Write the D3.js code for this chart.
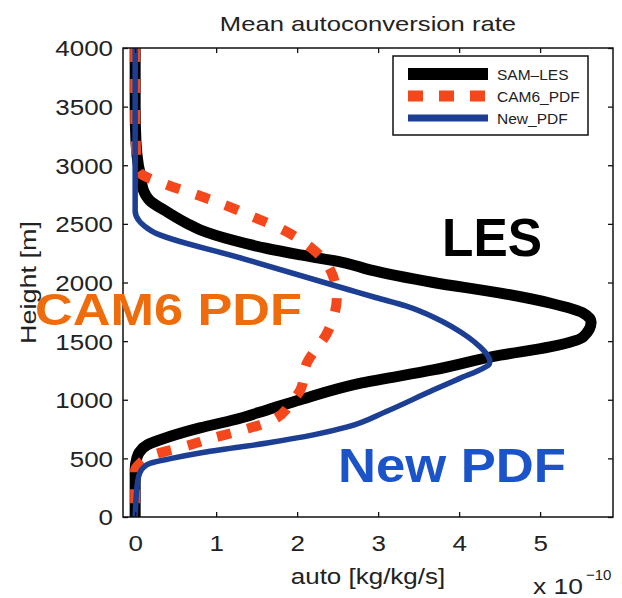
<!DOCTYPE html>
<html>
<head>
<meta charset="utf-8">
<script src="https://cdn.jsdelivr.net/npm/d3@7/dist/d3.min.js"></script>
<style>
  html, body { margin: 0; padding: 0; background: #fff; }
  svg { display: block; }
  text { font-family: "Liberation Sans", Arial, Helvetica, sans-serif; }
</style>
</head>
<body>
<svg id="chart" width="622" height="598"></svg>
<script>
// Mean autoconversion rate profiles (units of 1e-10 kg/kg/s) versus height (m)
const lesHeight = [4000, 3500, 3200, 3000, 2900, 2790, 2700, 2600, 2500, 2450, 2360, 2290, 2235, 2166, 2107, 2000, 1910, 1825, 1740, 1663, 1535, 1450, 1380, 1254, 1143, 1000, 913, 827, 760, 680, 615, 550, 500, 400, 0];
const lesRate   = [0.0, 0.0, 0.01, 0.04, 0.07, 0.1, 0.18, 0.4, 0.65, 0.8, 1.21, 1.63, 2.04, 2.6, 2.9, 3.68, 4.51, 5.12, 5.53, 5.63, 5.53, 5.12, 4.51, 3.68, 2.8, 2.04, 1.63, 1.21, 0.8, 0.4, 0.15, 0.05, 0.02, 0.0, 0.0];

const cam6Height = [4000, 3500, 3000, 2934, 2832, 2746, 2661, 2559, 2448, 2303, 2107, 1876, 1569, 1313, 1083, 1000, 827, 742, 674, 597, 529, 450, 400, 0];
const cam6Rate   = [0.0, 0.0, 0.02, 0.06, 0.4, 0.77, 1.11, 1.46, 1.83, 2.16, 2.41, 2.49, 2.37, 2.12, 2.04, 1.95, 1.70, 1.33, 0.96, 0.59, 0.22, 0.05, 0.0, 0.0];

const newHeight = [4000, 2610, 2440, 2200, 1936, 1870, 1800, 1700, 1620, 1530, 1450, 1380, 1330, 1300, 1270, 1180, 1083, 900, 768, 700, 631, 546, 500, 460, 420, 380, 300, 0];
const newRate   = [0.0, 0.0, 0.2, 1.35, 2.65, 2.98, 3.34, 3.7, 3.92, 4.12, 4.26, 4.35, 4.38, 4.37, 4.3, 4.0, 3.68, 3.1, 2.62, 2.2, 1.63, 0.8, 0.45, 0.19, 0.1, 0.06, 0.03, 0.0];

const xTicks = [0, 1, 2, 3, 4, 5];
const yTicks = [0, 500, 1000, 1500, 2000, 2500, 3000, 3500, 4000];

const seriesNames  = ["SAM\u2013LES", "CAM6_PDF", "New_PDF"];
const titleText    = "Mean autoconversion rate";
const xLabelText   = "auto [kg/kg/s]";
const yLabelText   = "Height [m]";
const noteLabels   = ["CAM6 PDF", "LES", "New PDF"];

// Plot frame
const frame = { left: 123, right: 613, top: 48, bottom: 517 };
const svg = d3.select("#chart");

const x = d3.scaleLinear().domain([-0.15, 5.9]).range([frame.left, frame.right]);
const y = d3.scaleLinear().domain([0, 4000]).range([frame.bottom, frame.top]);

const STRETCH = 1.18;
function widen(sel, factor) {
  sel.each(function () {
    const w = this.getComputedTextLength();
    d3.select(this).attr("textLength", w * factor).attr("lengthAdjust", "spacingAndGlyphs");
  });
}

// Series lines
const toPoints = (hs, vs) => hs.map((h, i) => [vs[i], h]);
const smoothLine = d3.line().x(d => x(d[0])).y(d => y(d[1])).curve(d3.curveMonotoneY);

svg.append("clipPath").attr("id", "plotclip")
  .append("rect").attr("x", frame.left).attr("y", frame.top)
  .attr("width", frame.right - frame.left).attr("height", frame.bottom - frame.top);
const plot = svg.append("g").attr("clip-path", "url(#plotclip)");

const colLES = "#000000", colCAM = "#f4481c", colNEW = "#1d3f93";

plot.append("path").datum(toPoints(lesHeight, lesRate))
  .attr("d", smoothLine).attr("fill", "none").attr("stroke", colLES)
  .attr("stroke-width", 11).attr("stroke-linejoin", "round");

plot.append("path").datum(toPoints(cam6Height, cam6Rate))
  .attr("d", smoothLine).attr("fill", "none").attr("stroke", colCAM)
  .attr("stroke-width", 10).attr("stroke-dasharray", "14,17");

plot.append("path").datum(toPoints(newHeight, newRate))
  .attr("d", smoothLine).attr("fill", "none").attr("stroke", colNEW)
  .attr("stroke-width", 5.5).attr("stroke-linejoin", "round");

// Axes with inward ticks on all four sides
const tickColor = "#222";
const fmt = d3.format("d");
const gL = svg.append("g").attr("transform", `translate(${frame.left},0)`)
  .call(d3.axisLeft(y).tickValues(yTicks).tickFormat(fmt).tickSizeInner(-5).tickSizeOuter(0).tickPadding(10));
const gB = svg.append("g").attr("transform", `translate(0,${frame.bottom})`)
  .call(d3.axisBottom(x).tickValues(xTicks).tickFormat(fmt).tickSizeInner(-5).tickSizeOuter(0).tickPadding(20));
const gT = svg.append("g").attr("transform", `translate(0,${frame.top})`)
  .call(d3.axisTop(x).tickValues(xTicks).tickSizeInner(-5).tickSizeOuter(0).tickFormat(""));
const gR = svg.append("g").attr("transform", `translate(${frame.right},0)`)
  .call(d3.axisRight(y).tickValues(yTicks).tickSizeInner(-5).tickSizeOuter(0).tickFormat(""));

[gL, gB, gT, gR].forEach(g => {
  g.select(".domain").remove();
  g.selectAll(".tick line").attr("stroke", "#111").attr("stroke-width", 1.3);
  g.selectAll("text").attr("font-size", 22).attr("fill", tickColor)
    .style("font-family", "'Liberation Sans', Arial, sans-serif");
});
gL.selectAll("text").attr("dy", "0.36em");
gB.selectAll("text").attr("dy", "0.71em").attr("y", 18);
widen(gL.selectAll("text"), STRETCH);
widen(gB.selectAll("text"), STRETCH);

// Frame
svg.append("rect").attr("x", frame.left).attr("y", frame.top)
  .attr("width", frame.right - frame.left).attr("height", frame.bottom - frame.top)
  .attr("fill", "none").attr("stroke", "#111").attr("stroke-width", 1.5);

// Title and axis labels
const title = svg.append("text").attr("x", (frame.left + frame.right) / 2).attr("y", 31)
  .attr("text-anchor", "middle").attr("font-size", 21).attr("fill", "#222").text(titleText);
widen(title, 1.22);

const xl = svg.append("text").attr("x", (frame.left + frame.right) / 2).attr("y", 584)
  .attr("text-anchor", "middle").attr("font-size", 22).attr("fill", "#222").text(xLabelText);
widen(xl, STRETCH);

svg.append("text").attr("transform", `translate(36,${(frame.top + frame.bottom) / 2}) rotate(-90)`)
  .attr("text-anchor", "middle").attr("font-size", 22).attr("fill", "#222")
  .attr("textLength", 123).attr("lengthAdjust", "spacingAndGlyphs").text(yLabelText);

// Exponent label
const ex = svg.append("text").attr("x", 533).attr("y", 594).attr("font-size", 22).attr("fill", "#222");
ex.append("tspan").text("x 10").attr("textLength", 50).attr("lengthAdjust", "spacingAndGlyphs");
ex.append("tspan").attr("x", 586).attr("y", 580).attr("font-size", 15).text("\u221210");

// Legend
const lg = svg.append("g");
lg.append("rect").attr("x", 393).attr("y", 56).attr("width", 195).attr("height", 79)
  .attr("fill", "#fff").attr("stroke", "#111").attr("stroke-width", 1.5);
const legendRows = [
  { name: seriesNames[0], color: colLES, width: 12, dash: null, yy: 74 },
  { name: seriesNames[1], color: colCAM, width: 11, dash: "15,16", yy: 96 },
  { name: seriesNames[2], color: colNEW, width: 7, dash: null, yy: 118 }
];
legendRows.forEach(r => {
  lg.append("line").attr("x1", 408).attr("x2", 488).attr("y1", r.yy).attr("y2", r.yy)
    .attr("stroke", r.color).attr("stroke-width", r.width)
    .attr("stroke-dasharray", r.dash);
  lg.append("text").attr("x", 497).attr("y", r.yy + 6).attr("font-size", 15.5)
    .attr("fill", "#222").text(r.name);
});

// Annotations
svg.append("text").attr("x", 35).attr("y", 325).attr("font-size", 45).attr("font-weight", "bold")
  .attr("fill", "#ee6c0c").attr("textLength", 267).attr("lengthAdjust", "spacingAndGlyphs").text(noteLabels[0]);
svg.append("text").attr("x", 442).attr("y", 256).attr("font-size", 53).attr("font-weight", "bold")
  .attr("fill", "#000").attr("textLength", 100).attr("lengthAdjust", "spacingAndGlyphs").text(noteLabels[1]);
svg.append("text").attr("x", 338).attr("y", 482).attr("font-size", 48).attr("font-weight", "bold")
  .attr("fill", "#1b54c9").attr("textLength", 228).attr("lengthAdjust", "spacingAndGlyphs").text(noteLabels[2]);
</script>
</body>
</html>
